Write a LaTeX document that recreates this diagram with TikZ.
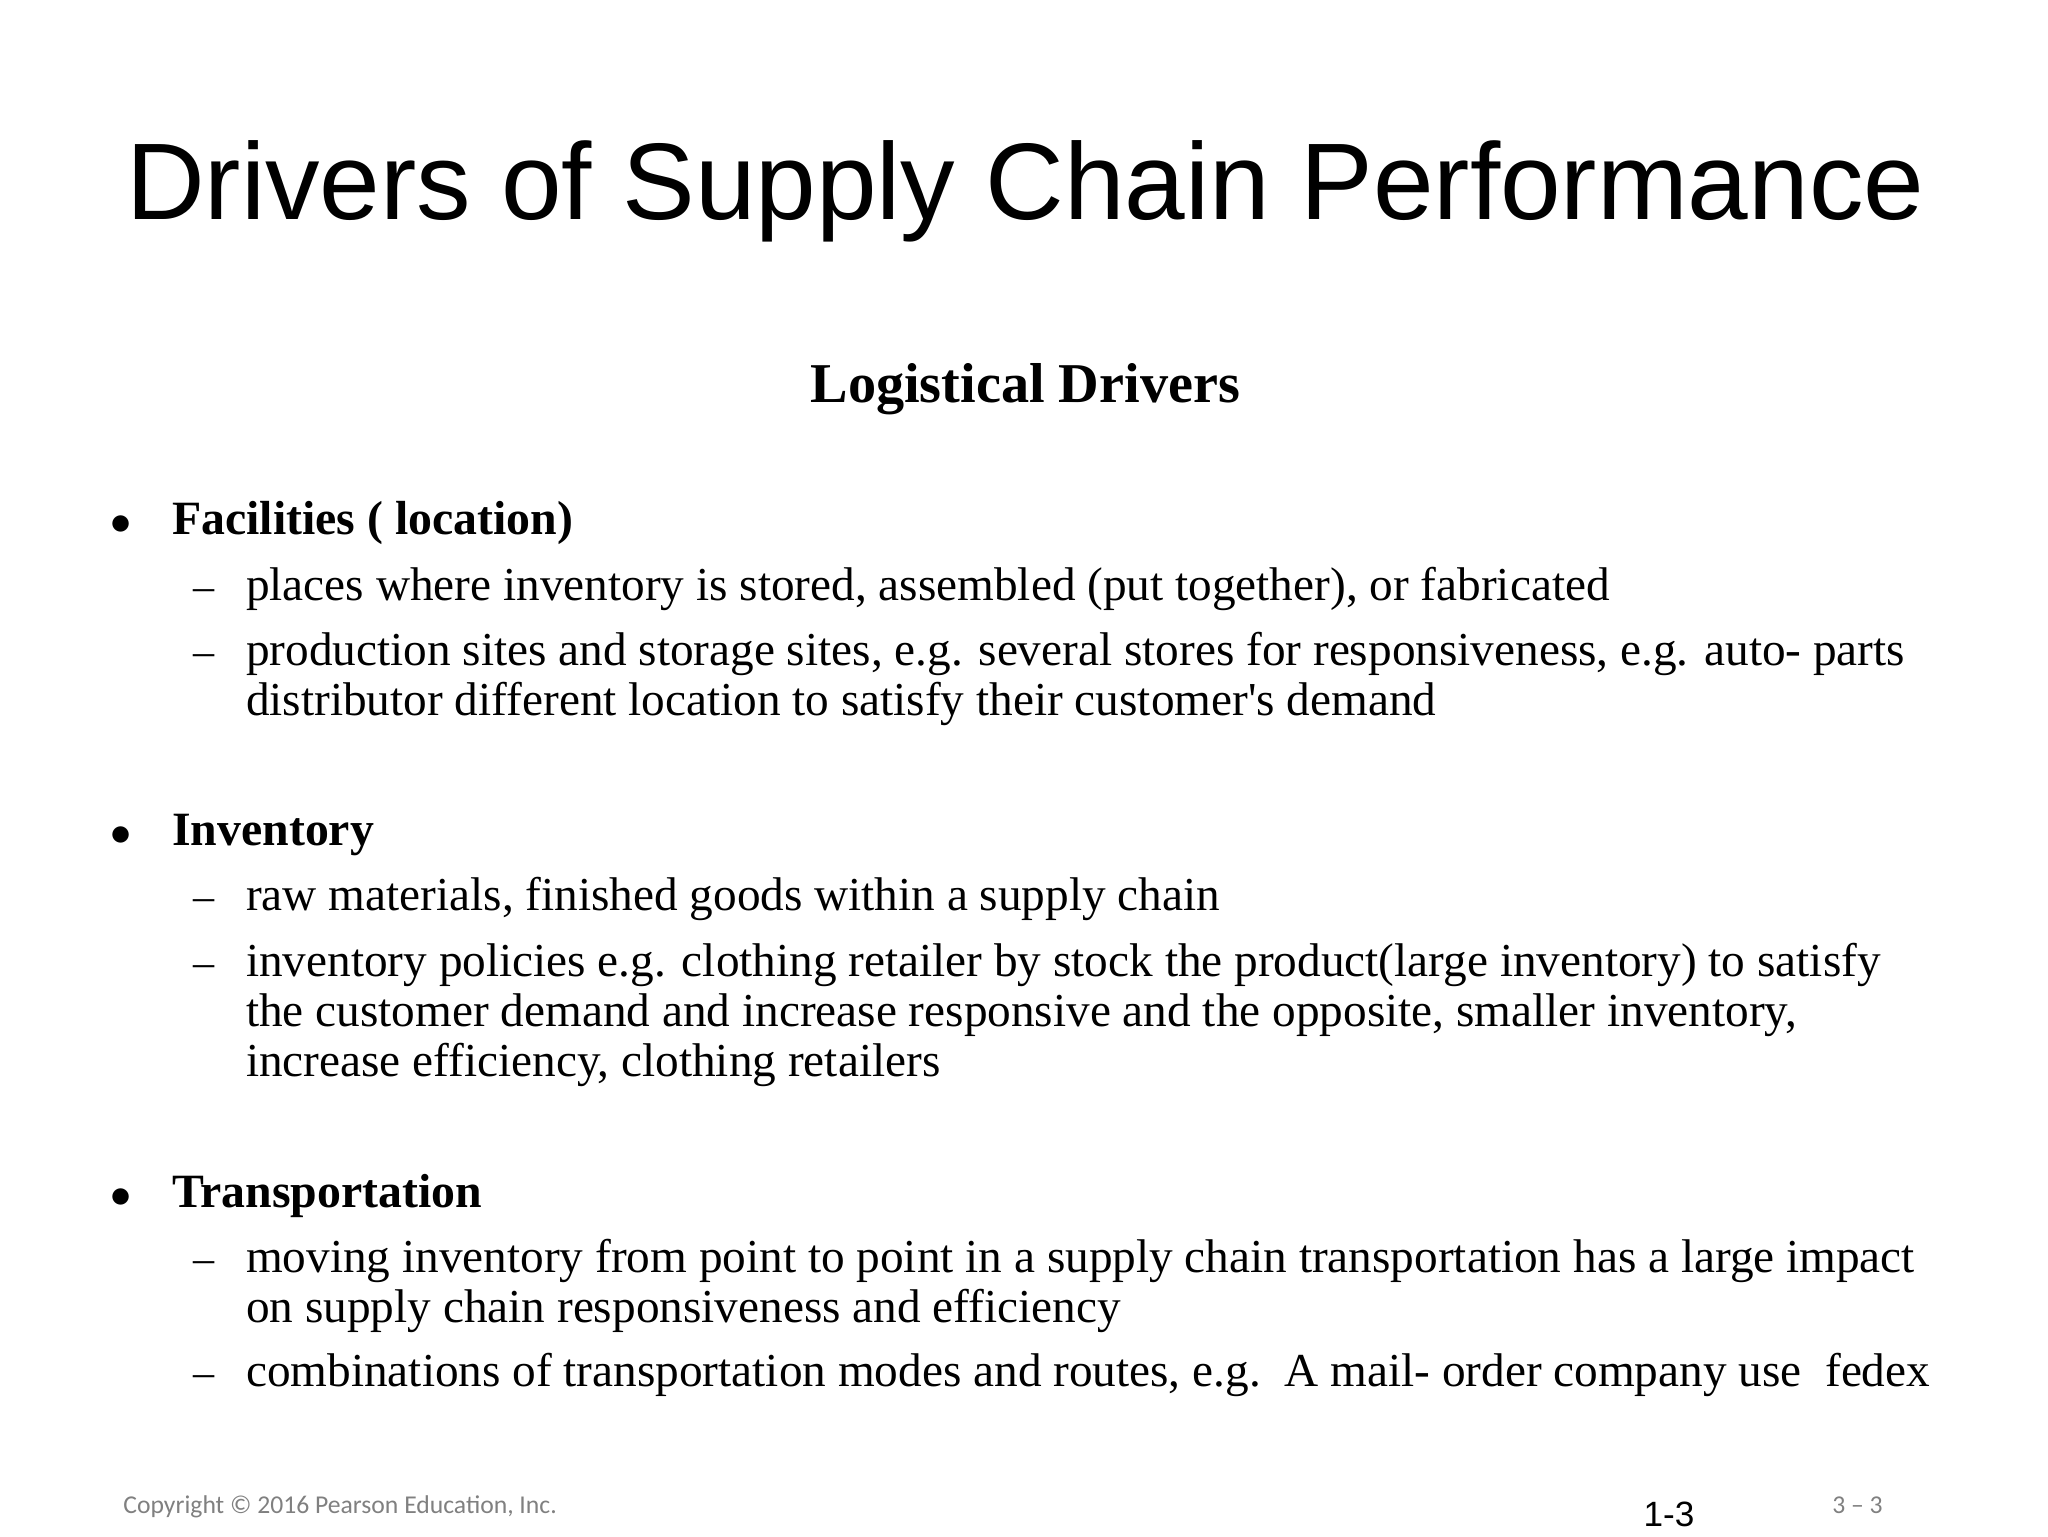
\documentclass[tikz,border=0pt]{standalone}
\usepackage{fontspec}
\setmainfont{Liberation Serif}
\newfontfamily\titlefont{Liberation Sans}
\newfontfamily\footfont{Carlito}
\begin{document}
\begin{tikzpicture}[x=0.013196cm,y=-0.013196cm,
  txt/.style={anchor=base west,inner sep=0,font=\fontsize{13.45}{16}\selectfont,align=left},
  head/.style={txt,font=\fontsize{13.6}{16}\selectfont\bfseries},
  bul/.style={anchor=base,inner sep=0,font=\fontsize{12}{16}\selectfont}]
\useasboundingbox (0,0) rectangle (1552,1164);
\node[anchor=base,inner sep=0,font=\titlefont\fontsize{31}{36}\selectfont] (title) at (777,166) {Drivers of Supply Chain Performance};
\node[anchor=base,inner sep=0,font=\fontsize{16}{19}\selectfont\bfseries] (sub) at (777,305) {Logistical Drivers};
% Facilities
\node[bul] (b1) at (92,405) {$\bullet$};
\node[head] (h1) at (130,405) {Facilities ( location)};
\node[bul] (d11) at (155,455) {--};
\node[txt] (t11) at (186,455) {places where inventory is stored, assembled (put together), or fabricated};
\node[bul] (d12) at (155,504) {--};
\node[txt] (t12) at (186,504) {production sites and storage sites, e.g. several stores for responsiveness, e.g. auto- parts};
\node[txt] (t12b) at (186,542) {distributor different location to satisfy their customer\textquotesingle s demand};
% Inventory
\node[bul] (b2) at (92,641) {$\bullet$};
\node[head] (h2) at (130,641) {Inventory};
\node[bul] (d21) at (155,690) {--};
\node[txt] (t21) at (186,690) {raw materials, finished goods within a supply chain};
\node[bul] (d22) at (155,740) {--};
\node[txt] (t22) at (186,740) {inventory policies e.g. clothing retailer by stock the product(large inventory) to satisfy};
\node[txt] (t22b) at (186,778) {the customer demand and increase responsive and the opposite, smaller inventory,};
\node[txt] (t22c) at (186,816) {increase efficiency, clothing retailers};
% Transportation
\node[bul] (b3) at (92,915) {$\bullet$};
\node[head] (h3) at (130,915) {Transportation};
\node[bul] (d31) at (155,964) {--};
\node[txt] (t31) at (186,964) {moving inventory from point to point in a supply chain transportation has a large impact};
\node[txt] (t31b) at (186,1002) {on supply chain responsiveness and efficiency};
\node[bul] (d32) at (155,1051) {--};
\node[txt] (t32) at (186,1051) {combinations of transportation modes and routes, e.g.\ \ A mail- order company use\ \ fedex};
% footer
\node[anchor=base west,inner sep=0,text=gray,font=\footfont\fontsize{7.3}{9}\selectfont] (copy) at (93,1147) {Copyright © 2016 Pearson Education, Inc.};
\node[anchor=base west,inner sep=0,font=\titlefont\fontsize{10}{12}\selectfont] (pg) at (1245,1157) {1-3};
\node[anchor=base west,inner sep=0,text=gray,font=\footfont\fontsize{7.3}{9}\selectfont] (pg2) at (1388,1147) {3 – 3};
\end{tikzpicture}
\end{document}
